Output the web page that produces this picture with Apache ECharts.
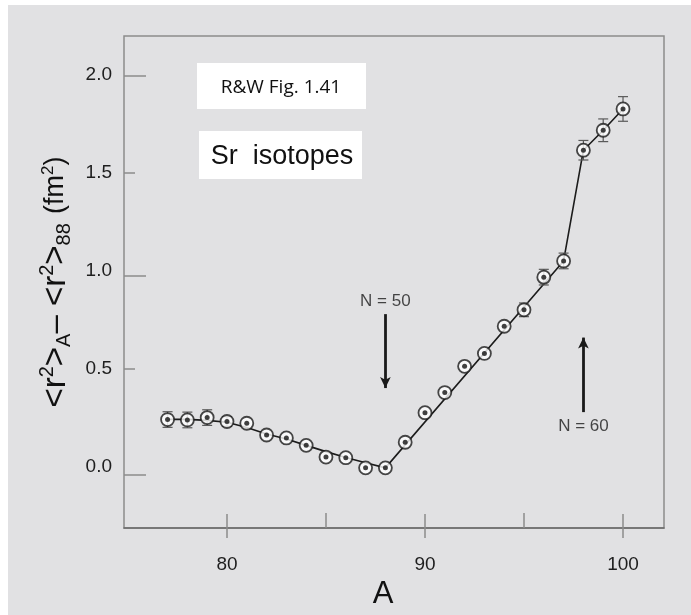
<!DOCTYPE html>
<html>
<head>
<meta charset="utf-8">
<script src="https://cdn.jsdelivr.net/npm/echarts@6/dist/echarts.min.js"></script>
<style>
  html, body { margin: 0; padding: 0; background: #ffffff; }
  #chart { position: absolute; left: 8px; top: 5px; width: 683px; height: 610px; }
</style>
</head>
<body>
<div id="chart"></div>
<script>
// Mass numbers of the Sr isotopes
const massNumbers = [77, 78, 79, 80, 81, 82, 83, 84, 85, 86, 87, 88,
                     89, 90, 91, 92, 93, 94, 95, 96, 97, 98, 99, 100];
// <r^2>_A - <r^2>_88 in fm^2
const deltaR2 = [0.239, 0.237, 0.249, 0.229, 0.220, 0.160, 0.145, 0.107, 0.047, 0.044, -0.008, -0.008,
                 0.123, 0.274, 0.377, 0.511, 0.577, 0.716, 0.800, 0.967, 1.050, 1.616, 1.718, 1.827];
// Uncertainties (0 = bar hidden inside the marker)
const deltaR2Err = [0.04, 0.04, 0.04, 0.025, 0, 0, 0, 0, 0, 0, 0, 0,
                    0, 0, 0, 0, 0, 0, 0.035, 0.04, 0.04, 0.05, 0.058, 0.063];
// Guide curve through the data
const fitA = [77, 78, 79, 80, 81, 82, 83, 84, 85, 86, 87, 88, 97, 98, 99, 100];
const fitValues = [0.24, 0.24, 0.235, 0.225, 0.198, 0.165, 0.14, 0.107, 0.075, 0.045, 0.018, -0.008,
                   1.05, 1.616, 1.718, 1.827];
// Tick labels
const xTickLabels = [80, 90, 100];
const xMinorTicks = [85, 95];
const yTickLabels = [0, 0.5, 1.0, 1.5, 2.0];
const yMajorTicks = [0, 1.0, 2.0];
const yMinorTicks = [0.5, 1.5];
// Shell closure annotations: [A, y of label, label, arrow start, arrow end]
const annotationA = [88, 98];
const annotationText = ['N = 50', 'N = 60'];
const annotationLabelY = [0.846, 0.202];
const arrowFrom = [0.778, 0.277];
const arrowTo = [0.400, 0.658];

const xMin = 74.8, xMax = 102.07;
const yMin = -0.316, yMax = 2.2;

const fontFamily = '"Liberation Sans", Arial, Helvetica, sans-serif';
const frameColor = '#8c8c8c';

const pointData = massNumbers.map((a, i) => [a, deltaR2[i]]);
const errData = massNumbers.map((a, i) => [a, deltaR2[i], deltaR2Err[i]]).filter(d => d[2] > 0);
const fitData = fitA.map((a, i) => [a, fitValues[i]]);
const labelData = annotationA.map((a, i) => [a, annotationLabelY[i], annotationText[i]]);
const arrowData = annotationA.map((a, i) => [{ coord: [a, arrowFrom[i]] }, { coord: [a, arrowTo[i]] }]);

const gridBox = { left: 116, right: 27, top: 31, bottom: 77 };

const chart = echarts.init(document.getElementById('chart'), null, { renderer: 'canvas' });

const option = {
  backgroundColor: '#e1e1e3',
  animation: false,
  grid: [
    Object.assign({ show: true, borderColor: frameColor, borderWidth: 1.5, backgroundColor: 'transparent' }, gridBox),
    Object.assign({ show: false }, gridBox)
  ],
  xAxis: [
    {
      gridIndex: 0, type: 'value', min: xMin, max: xMax, position: 'bottom',
      splitLine: { show: false },
      axisLine: { show: true, onZero: false, lineStyle: { color: '#6a6a6a', width: 1.5 } },
      axisTick: { show: true, inside: true, length: 15, customValues: xMinorTicks,
                  lineStyle: { color: frameColor, width: 1.5 } },
      axisLabel: { customValues: xTickLabels, margin: 27, color: '#1e1e1e', fontSize: 19, fontFamily: fontFamily },
      name: 'A', nameLocation: 'middle', nameGap: 35,
      nameTextStyle: { fontSize: 31, color: '#111', fontFamily: fontFamily, padding: [0, 22, 0, 0] }
    },
    {
      gridIndex: 1, type: 'value', min: xMin, max: xMax, position: 'bottom',
      splitLine: { show: false },
      axisLine: { show: false, onZero: false },
      axisTick: { show: true, inside: true, length: 24, customValues: xTickLabels,
                  lineStyle: { color: frameColor, width: 1.5 } },
      axisLabel: { show: false }
    }
  ],
  yAxis: [
    {
      gridIndex: 0, type: 'value', min: yMin, max: yMax, position: 'left',
      splitLine: { show: false },
      axisLine: { show: false, onZero: false },
      axisTick: { show: true, inside: true, length: 11, customValues: yMinorTicks,
                  lineStyle: { color: frameColor, width: 1.5 } },
      axisLabel: { customValues: yTickLabels, margin: 12, color: '#1e1e1e', fontSize: 19, fontFamily: fontFamily,
                   formatter: v => v.toFixed(1) },
      name: '{m|<r}{p|2}{m|>}{b|A}{m|– <r}{p|2}{m|>}{b|88}{m| }{s|(fm}{q|2}{s|)}',
      nameLocation: 'middle', nameRotate: 90, nameGap: 48,
      nameTextStyle: {
        color: '#111', fontFamily: fontFamily,
        rich: {
          m: { fontSize: 33, fontFamily: fontFamily, color: '#111', lineHeight: 40 },
          p: { fontSize: 20, fontFamily: fontFamily, color: '#111', padding: [0, 0, 18, 0] },
          b: { fontSize: 20, fontFamily: fontFamily, color: '#111', padding: [16, 0, 0, 0] },
          s: { fontSize: 27, fontFamily: fontFamily, color: '#111' },
          q: { fontSize: 17, fontFamily: fontFamily, color: '#111', padding: [0, 0, 16, 0] }
        }
      }
    },
    {
      gridIndex: 1, type: 'value', min: yMin, max: yMax, position: 'left',
      splitLine: { show: false },
      axisLine: { show: false, onZero: false },
      axisTick: { show: true, inside: true, length: 22, customValues: yMajorTicks,
                  lineStyle: { color: frameColor, width: 1.5 } },
      axisLabel: { show: false }
    }
  ],
  graphic: [
    {
      type: 'group', left: 189, top: 58,
      children: [
        { type: 'rect', shape: { x: 0, y: 0, width: 169, height: 46 }, style: { fill: '#ffffff' } },
        { type: 'text', x: 84, y: 25,
          style: { text: 'R&W Fig. 1.41', fill: '#111', font: '19px "Open Sans", Lato, sans-serif',
                   align: 'center', verticalAlign: 'middle' } }
      ]
    },
    {
      type: 'group', left: 191, top: 126,
      children: [
        { type: 'rect', shape: { x: 0, y: 0, width: 163, height: 48 }, style: { fill: '#ffffff' } },
        { type: 'text', x: 83, y: 26,
          style: { text: 'Sr  isotopes', fill: '#111', font: '27px "Liberation Sans", Arial, sans-serif',
                   align: 'center', verticalAlign: 'middle' } }
      ]
    }
  ],
  series: [
    {
      name: 'fit', type: 'line', xAxisIndex: 0, yAxisIndex: 0,
      data: fitData, showSymbol: false, symbol: 'none', silent: true, z: 2,
      lineStyle: { color: '#1c1c1c', width: 1.6 }
    },
    {
      name: 'errors', type: 'custom', xAxisIndex: 0, yAxisIndex: 0,
      data: errData, z: 3, silent: true,
      encode: { x: 0, y: 1 },
      renderItem: function (params, api) {
        const x = api.value(0), y = api.value(1), e = api.value(2);
        const top = api.coord([x, y + e]);
        const bot = api.coord([x, y - e]);
        const w = 5;
        const style = { stroke: '#5a5a5a', lineWidth: 1.2 };
        return {
          type: 'group',
          children: [
            { type: 'line', shape: { x1: top[0], y1: top[1], x2: bot[0], y2: bot[1] }, style: style },
            { type: 'line', shape: { x1: top[0] - w, y1: top[1], x2: top[0] + w, y2: top[1] }, style: style },
            { type: 'line', shape: { x1: bot[0] - w, y1: bot[1], x2: bot[0] + w, y2: bot[1] }, style: style }
          ]
        };
      }
    },
    {
      name: 'rings', type: 'scatter', xAxisIndex: 0, yAxisIndex: 0,
      data: pointData, symbol: 'circle', symbolSize: 13, z: 4, silent: true,
      itemStyle: { color: '#ffffff', borderColor: '#1a1a1a', borderWidth: 1.8 }
    },
    {
      name: 'dots', type: 'scatter', xAxisIndex: 0, yAxisIndex: 0,
      data: pointData, symbol: 'circle', symbolSize: 5, z: 5, silent: true,
      itemStyle: { color: '#111111' }
    },
    {
      name: 'annotations', type: 'scatter', xAxisIndex: 0, yAxisIndex: 0,
      data: labelData, symbolSize: 0, z: 6, silent: true,
      label: { show: true, position: 'inside', formatter: p => p.value[2],
               color: '#1a1a1a', fontSize: 17, fontFamily: fontFamily },
      markLine: {
        silent: true, animation: false,
        symbol: ['none', 'arrow'], symbolSize: [8, 11],
        label: { show: false },
        lineStyle: { type: 'solid', color: '#1a1a1a', width: 2.8 },
        data: arrowData
      }
    }
  ]
};

chart.setOption(option);
</script>
</body>
</html>
